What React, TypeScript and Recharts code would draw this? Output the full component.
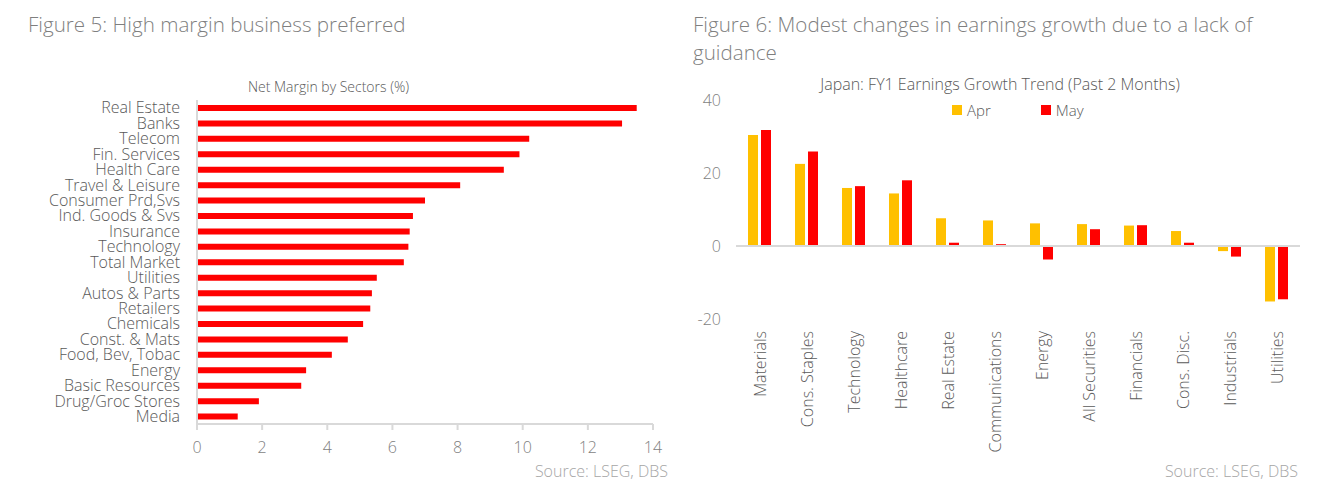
import React from "react"
import { BarChart, Bar, XAxis, YAxis, ReferenceLine, Legend } from "recharts"

// Figure 5
const sectors = [
  "Real Estate", "Banks", "Telecom", "Fin. Services", "Health Care", "Travel & Leisure",
  "Consumer Prd,Svs", "Ind. Goods & Svs", "Insurance", "Technology", "Total Market",
  "Utilities", "Autos & Parts", "Retailers", "Chemicals", "Const. & Mats",
  "Food, Bev, Tobac", "Energy", "Basic Resources", "Drug/Groc Stores", "Media",
]
const netMargin = [
  13.5, 13.05, 10.2, 9.9, 9.42, 8.08, 7.0, 6.63, 6.53, 6.49, 6.35,
  5.52, 5.37, 5.32, 5.1, 4.63, 4.14, 3.35, 3.2, 1.9, 1.25,
]
const marginTicks = [0, 2, 4, 6, 8, 10, 12, 14]

// Figure 6
const growthSectors = [
  "Materials", "Cons. Staples", "Technology", "Healthcare", "Real Estate", "Communications",
  "Energy", "All Securities", "Financials", "Cons. Disc.", "Industrials", "Utilities",
]
const aprGrowth = [30.4, 22.5, 15.9, 14.4, 7.6, 7.0, 6.2, 6.0, 5.6, 4.1, -1.4, -15.2]
const mayGrowth = [31.8, 25.9, 16.4, 18.0, 0.9, 0.5, -3.7, 4.6, 5.7, 0.9, -2.9, -14.6]
const growthTicks = [-20, 0, 20, 40]

const marginData = sectors.map((name, i) => ({ name, value: netMargin[i] }))
const growthData = growthSectors.map((name, i) => ({ name, apr: aprGrowth[i], may: mayGrowth[i] }))

const FONT = "'Open Sans', sans-serif"
const GREY = "#7f7f7f"
const DARK = "#595959"
const LINE = "#d9d9d9"

function RotatedTick({ x, y, payload }: any) {
  return (
    <text
      x={x}
      y={y}
      transform={`rotate(-90 ${x} ${y})`}
      textAnchor="end"
      dominantBaseline="central"
      fill={DARK}
      fontSize={16}
      fontWeight={300}
      fontFamily={FONT}
    >
      {payload.value}
    </text>
  )
}

function GrowthLegend({ payload }: any) {
  return (
    <div style={{ display: "flex", fontFamily: FONT, fontSize: 15, fontWeight: 300, color: DARK }}>
      {payload.map((p: any) => (
        <div key={p.value} style={{ display: "flex", alignItems: "center", marginRight: 50 }}>
          <span style={{ width: 10, height: 10, background: p.color, marginRight: 5, display: "inline-block" }} />
          {p.value}
        </div>
      ))}
    </div>
  )
}

export default function App() {
  return (
    <div style={{ position: "absolute", left: 0, top: 0, width: 1328, height: 486, background: "#fff", fontFamily: FONT, fontWeight: 300 }}>
      <div style={{ position: "absolute", left: 28, top: 10, fontSize: 20.6, color: GREY, lineHeight: "28px" }}>
        Figure 5: High margin business preferred
      </div>
      <div style={{ position: "absolute", left: 0, width: 657, top: 77, textAlign: "center", fontSize: 14, color: DARK }}>
        Net Margin by Sectors (%)
      </div>

      <div style={{ position: "absolute", left: 0, top: 0 }}>
        <BarChart
          width={680}
          height={486}
          layout="vertical"
          data={marginData}
          margin={{ top: 100, right: 27, bottom: 32, left: 0 }}
        >
          <XAxis
            type="number"
            domain={[0, 14]}
            ticks={marginTicks}
            interval={0}
            stroke={LINE}
            strokeWidth={2}
            tickSize={6}
            tickMargin={12}
            height={30}
            tick={{ fill: GREY, fontSize: 16, fontWeight: 300, fontFamily: FONT }}
          />
          <YAxis
            type="category"
            dataKey="name"
            width={197}
            interval={0}
            stroke={LINE}
            strokeWidth={2}
            tickLine={false}
            tickSize={0}
            tickMargin={17}
            tick={{ fill: DARK, fontSize: 16, fontWeight: 300, fontFamily: FONT }}
          />
          <Bar dataKey="value" fill="#ff0000" barSize={6} isAnimationActive={false} />
        </BarChart>
      </div>

      <div style={{ position: "absolute", right: 1328 - 668, top: 460, fontSize: 16, color: "#a6a6a6" }}>Source: LSEG, DBS</div>

      <div style={{ position: "absolute", left: 693, top: 10, width: 625, fontSize: 20.6, color: GREY, lineHeight: "28px" }}>
        Figure 6: Modest changes in earnings growth due to a lack of guidance
      </div>
      <div style={{ position: "absolute", left: 700, width: 600, top: 73, textAlign: "center", fontSize: 16, color: DARK }}>
        Japan: FY1 Earnings Growth Trend (Past 2 Months)
      </div>

      <div style={{ position: "absolute", left: 680, top: 0 }}>
        <BarChart
          width={648}
          height={486}
          data={growthData}
          margin={{ top: 100, right: 28, bottom: 8, left: 0 }}
          barGap={3}
        >
          <XAxis
            dataKey="name"
            interval={0}
            axisLine={false}
            tickLine={false}
            tickSize={0}
            tickMargin={12}
            height={139}
            tick={<RotatedTick />}
          />
          <YAxis
            domain={[-20, 40]}
            ticks={growthTicks}
            interval={0}
            width={56}
            axisLine={false}
            tickLine={false}
            tickSize={0}
            tickMargin={15}
            tick={{ fill: GREY, fontSize: 16, fontWeight: 300, fontFamily: FONT }}
          />
          <ReferenceLine y={0} stroke={LINE} strokeWidth={2} />
          <Legend
            content={<GrowthLegend />}
            wrapperStyle={{ position: "absolute", top: 100, left: 272, width: "auto" }}
          />
          <Bar dataKey="apr" name="Apr" fill="#ffc000" barSize={10} isAnimationActive={false} />
          <Bar dataKey="may" name="May" fill="#ff0000" barSize={10} isAnimationActive={false} />
        </BarChart>
      </div>

      <div style={{ position: "absolute", right: 1328 - 1298, top: 460, fontSize: 16, color: "#a6a6a6" }}>Source: LSEG, DBS</div>
    </div>
  )
}
